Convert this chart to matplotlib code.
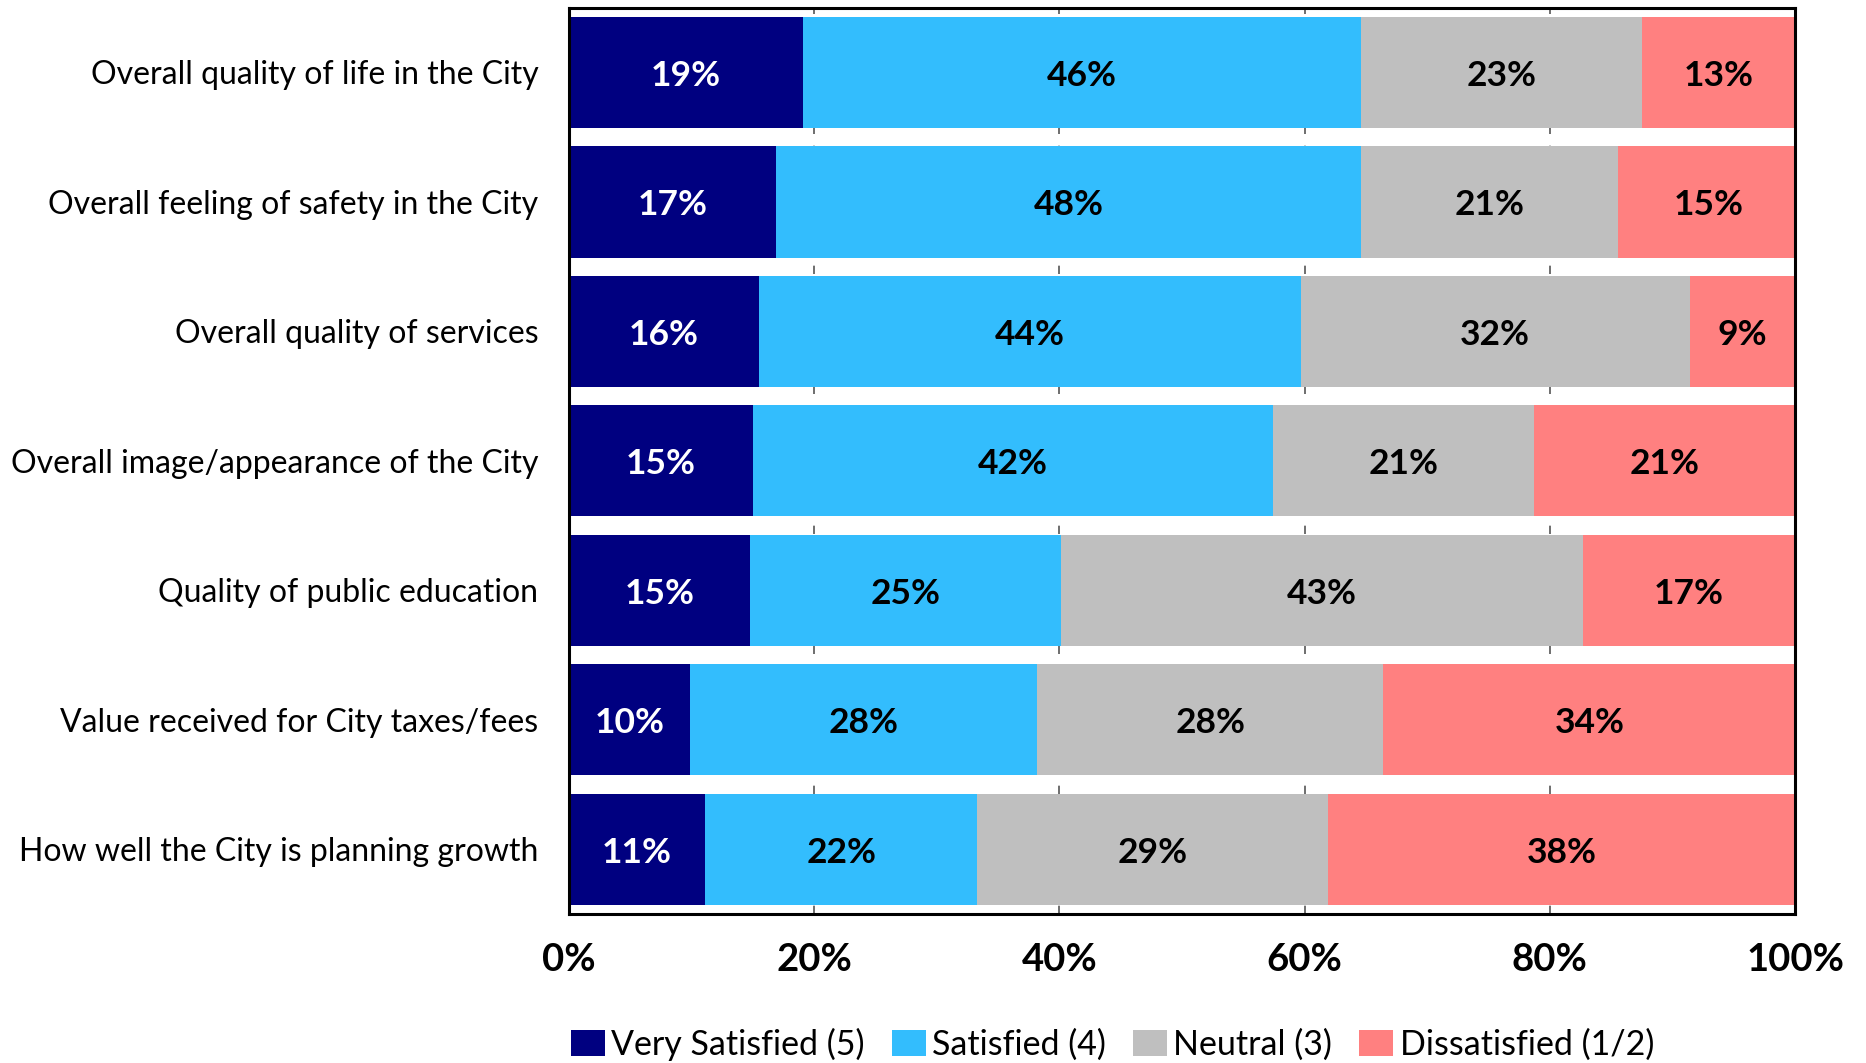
import matplotlib
matplotlib.use("Agg")
import matplotlib.pyplot as plt
import numpy as np

categories = [
    "Overall quality of life in the City",
    "Overall feeling of safety in the City",
    "Overall quality of services",
    "Overall image/appearance of the City",
    "Quality of public education",
    "Value received for City taxes/fees",
    "How well the City is planning growth",
]
series_names = ["Very Satisfied (5)", "Satisfied (4)", "Neutral (3)", "Dissatisfied (1/2)"]
very_satisfied = [19.1, 16.9, 15.5, 15.0, 14.8, 9.9, 11.1]
satisfied = [45.5, 47.7, 44.2, 42.4, 25.3, 28.3, 22.2]
neutral = [22.9, 21.0, 31.7, 21.3, 42.6, 28.2, 28.6]
dissatisfied = [12.6, 14.7, 8.6, 21.3, 17.3, 33.7, 38.1]
x_ticks = [0, 20, 40, 60, 80, 100]
x_tick_labels = ["0%", "20%", "40%", "60%", "80%", "100%"]

colors = ["#000080", "#33BDFD", "#BFBFBF", "#FF8080"]
text_colors = ["white", "black", "black", "black"]

plt.rcParams['font.family'] = ['Lato', 'DejaVu Sans']

fig = plt.figure(figsize=(18.66, 10.63), dpi=100)
ax = fig.add_axes([569/1866, 1 - 914/1063, (1795-569)/1866, (914-7.6)/1063])

y = np.arange(len(categories))
left = np.zeros(len(categories))
data = [very_satisfied, satisfied, neutral, dissatisfied]
handles = []
for vals, col, tcol, name in zip(data, colors, text_colors, series_names):
    vals = np.array(vals)
    b = ax.barh(y, vals, left=left, height=0.86, color=col, label=name, zorder=2)
    handles.append(b)
    for yi, (l, v) in enumerate(zip(left, vals)):
        ax.annotate(f"{int(v + 0.5)}%", xy=(l + v / 2, yi), xytext=(0, -2.5),
                    textcoords="offset points", ha="center", va="center",
                    color=tcol, fontsize=25.5, fontweight="bold", zorder=3)
    left = left + vals

ax.set_xlim(0, 100)
ax.set_ylim(len(categories) - 0.5, -0.5)
ax.set_yticks(y)
ax.set_yticklabels(categories, fontsize=23)
for t in ax.get_yticklabels():
    t.set_verticalalignment("center_baseline")
ax.set_xticks(x_ticks)
ax.set_xticklabels(x_tick_labels, fontsize=27.5, fontweight="bold")
ax.tick_params(axis="y", length=0, pad=22)
ax.tick_params(axis="x", length=0, pad=21)
ax.xaxis.grid(True, color="#555555", linestyle=(0, (5, 7)), linewidth=1.2, zorder=0)
ax.set_axisbelow(True)
for s in ax.spines.values():
    s.set_linewidth(2.2)
    s.set_color("black")

fig.legend(handles=handles, labels=series_names, loc="center left",
           bbox_to_anchor=(571/1866, 1 - 1044/1063), ncol=4, frameon=False,
           fontsize=24.5, handlelength=1.0, handleheight=0.8, handletextpad=0.18,
           columnspacing=0.8, borderaxespad=0, borderpad=0)

fig.savefig("out.png", dpi=100)
